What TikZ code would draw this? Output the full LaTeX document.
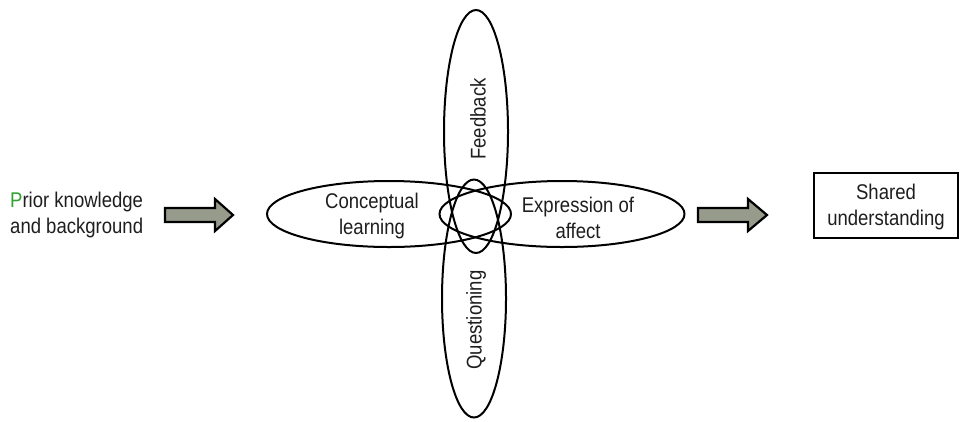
\documentclass[tikz,border=0pt]{standalone}
\usepackage{fontspec}
\setmainfont[FakeStretch=0.87]{Liberation Sans}
\usetikzlibrary{shapes.geometric}
\definecolor{txt}{RGB}{30,30,30}
\definecolor{pgreen}{RGB}{50,160,50}
\definecolor{arrowfill}{RGB}{150,155,140}
\begin{document}
\begin{tikzpicture}[x=1pt,y=-1pt,
  lbl/.style={inner sep=0pt,text=txt,align=center,font=\fontsize{21.3}{25.5}\selectfont},
  petal/.style={draw=black,line width=2pt},
  blockarrow/.style={draw=black,fill=arrowfill,line width=2.2pt,line join=miter},
  resultbox/.style={draw=black,line width=1.5pt}]
\useasboundingbox (0,0) rectangle (963,421);
% petals
\draw[petal] (389,214) ellipse [x radius=122,y radius=33];
\draw[petal] (562,214) ellipse [x radius=122.5,y radius=33];
\draw[petal] (476,131.5) ellipse [x radius=32,y radius=121.5];
\draw[petal] (474,298.5) ellipse [x radius=32,y radius=119];
% labels
\node[lbl,align=left,anchor=west] (prior) at (10,215) {\textcolor{pgreen}{P}rior knowledge\\and background};
\node[lbl] (concept) at (372,216) {Conceptual\\learning};
\node[lbl] (affect) at (578,218) {Expression of\\affect};
\node[lbl,rotate=90] (feedback) at (478,119) {Feedback};
\node[lbl,rotate=90] (question) at (476,320) {Questioning};
% result box
\draw[resultbox] (814,173) rectangle (958,238);
\node[lbl] (shared) at (886,207) {Shared\\understanding};
% block arrows
\coordinate (a1) at (165,215);
\coordinate (a2) at (698,215);
\draw[blockarrow] (a1) ++(0,-7) -- ++(50,0) -- ++(0,-9) -- ++(18,16) -- ++(-18,16) -- ++(0,-9) -- ++(-50,0) -- cycle;
\draw[blockarrow] (a2) ++(0,-7) -- ++(50,0) -- ++(0,-9) -- ++(19,16) -- ++(-19,16) -- ++(0,-9) -- ++(-50,0) -- cycle;
\end{tikzpicture}
\end{document}
